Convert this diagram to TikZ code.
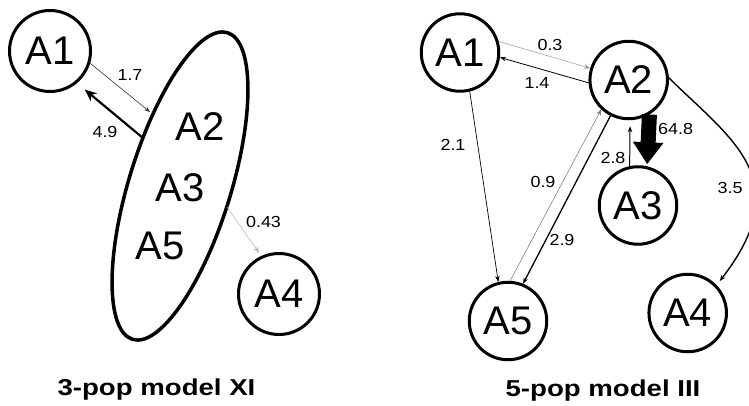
\documentclass[tikz,border=0pt]{standalone}
\usepackage{fontspec}
\setmainfont{Liberation Sans}
\usetikzlibrary{arrows.meta,shapes.geometric}
% rate labels and titles are set slightly wide
\newcommand{\widetext}[2]{\scalebox{#1}[1]{#2}}
\begin{document}
\begin{tikzpicture}[x=1pt,y=-1pt,
  pop/.style={circle,draw,line width=3pt,inner sep=0pt,minimum size=81pt,
    font=\fontsize{40}{40}\selectfont},
  popr/.style={pop,minimum size=77.5pt},
  member/.style={inner sep=0pt,font=\fontsize{40}{40}\selectfont},
  rate/.style={inner sep=0pt,font=\fontsize{16}{16}\selectfont},
  title/.style={anchor=base,inner sep=0pt,font=\bfseries\fontsize{23}{23}\selectfont},
  flow/.style={-{Stealth[length=6pt,width=4.5pt]}},
  faint/.style={flow,draw=black!40,line width=0.5pt},
]
\useasboundingbox (0,0) rectangle (749,405);

% ---------- 3-pop model XI ----------
\node[pop] (L1) at (50,51) {A1};
\node[pop] (L4) at (279,294) {A4};
\node[draw,ellipse,rotate=72.8,line width=3.5pt,inner sep=0pt,
  minimum width=321pt,minimum height=101.8pt] (grp) at (180,186) {};
\node[member] (g2) at (200,127) {A2};
\node[member] (g3) at (180,188) {A3};
\node[member] (g5) at (160,246) {A5};

\coordinate (g17) at (150,112);
\coordinate (g49) at (143,138);
\coordinate (g43) at (227,207);

\draw[flow,line width=0.6pt,draw=black!80] (L1.-17) -- (g17);
\draw[-{Stealth[length=12pt,width=10pt]},line width=2.2pt,shorten >=10pt] (g49) -- (L1.-50);
\draw[faint,draw=black!30,shorten >=4pt] (g43) -- (L4.115);

\node[rate] (r17) at (130,75) {\widetext{1.12}{1.7}};
\node[rate] (r49) at (105,132) {\widetext{1.12}{4.9}};
\node[rate] (r43) at (263.5,222) {\widetext{1.12}{0.43}};

\node[title] (t1) at (156.5,395.7) {\widetext{1.2}{3-pop model XI}};

% ---------- 5-pop model III ----------
\node[popr] (R1) at (460,52.5) {A1};
\node[popr] (R2) at (628.7,80) {A2};
\node[popr] (R3) at (638,205.5) {A3};
\node[popr] (R5) at (508,321) {A5};
\node[popr] (R4) at (687.7,313) {A4};

\draw[faint] (R1.16) -- (R2.163);
\draw[flow,line width=0.8pt] (R2.184) -- (R1.-7);
\draw[flow,line width=0.7pt] (R1.-76) -- (R5.104);
\draw[faint,draw=black!55] (R5.87) -- (R2.227);
\draw[flow,line width=1.3pt] (R2.243) -- (R5.68);
\draw[flow,line width=1pt,shorten >=6pt] (R3.102) -- (R2.-88);
\draw[-{Triangle[length=22pt,width=29pt]},line width=15pt,shorten >=2pt] (R2.-59) -- (R3.77);
\draw[flow,line width=1.4pt,shorten >=5pt] (R2.3) .. controls (732,140) and (798,180) .. (R4.44);

\node[rate] (s03) at (550,45) {\widetext{1.12}{0.3}};
\node[rate] (s14) at (537,83) {\widetext{1.12}{1.4}};
\node[rate] (s21) at (453,145) {\widetext{1.12}{2.1}};
\node[rate] (s09) at (543,182) {\widetext{1.12}{0.9}};
\node[rate] (s29) at (562,240) {\widetext{1.12}{2.9}};
\node[rate] (s28) at (613,158) {\widetext{1.12}{2.8}};
\node[rate] (s648) at (675.6,128.5) {\widetext{1.12}{64.8}};
\node[rate] (s35) at (730,188) {\widetext{1.12}{3.5}};

\node[title] (t2) at (603,396) {\widetext{1.2}{5-pop model III}};
\end{tikzpicture}
\end{document}
